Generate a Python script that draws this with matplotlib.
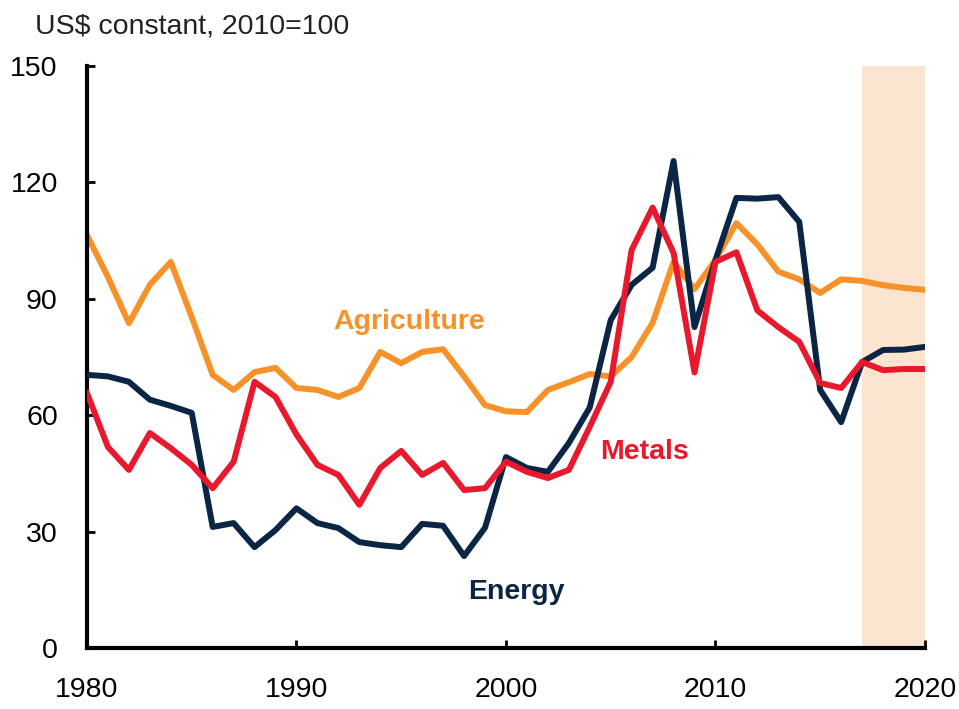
import numpy as np
import matplotlib.pyplot as plt
from matplotlib import font_manager

# narrow font if we have it, else plain Liberation Sans
try:
    font_manager.findfont('Liberation Sans Narrow', fallback_to_default=False)
    fam = 'Liberation Sans Narrow'
    scale = 1.0
except Exception:
    fam = 'Liberation Sans'
    scale = 0.82
plt.rcParams['font.family'] = [fam, 'DejaVu Sans']

years = list(range(1980, 2021))

energy = [70.4, 70.0, 68.6, 64.0, 62.4, 60.6, 31.2, 32.2, 26.0, 30.4,
          36.0, 32.2, 30.9, 27.3, 26.5, 26.0, 32.0, 31.5, 23.7, 31.0,
          49.2, 46.4, 45.4, 52.8, 62.0, 84.5, 93.6, 98.0, 125.5, 82.7,
          100.0, 116.0, 115.8, 116.2, 109.8, 66.5, 58.2, 73.7, 76.8, 76.9,
          77.6]
agriculture = [106.4, 95.6, 83.7, 93.6, 99.5, 85.3, 70.4, 66.5, 71.1, 72.2,
               67.0, 66.5, 64.7, 67.0, 76.3, 73.4, 76.3, 77.0, 70.0, 62.6,
               61.0, 60.8, 66.5, 68.5, 70.6, 70.0, 75.0, 83.8, 99.5, 92.5,
               100.0, 109.5, 104.0, 97.0, 95.0, 91.5, 95.0, 94.6, 93.5, 92.8,
               92.3]
metals = [65.7, 51.8, 45.9, 55.4, 51.5, 47.2, 41.2, 48.0, 68.6, 64.7,
          55.0, 47.2, 44.6, 36.9, 46.4, 50.8, 44.6, 47.7, 40.7, 41.2,
          48.0, 45.4, 43.8, 45.9, 57.0, 68.6, 102.6, 113.5, 101.8, 71.0,
          99.5, 102.0, 87.0, 82.7, 78.9, 68.3, 67.0, 73.7, 71.6, 71.9,
          71.9]

navy = '#0b2545'
red = '#e8192c'
orange = '#f7922a'

fs = 25 * scale

fig = plt.figure(figsize=(9.59, 7.09), dpi=100)
ax = fig.add_axes([0.0907, 0.086, 0.8738, 0.821])

ax.axvspan(2017, 2020, color='#fbe5d0', lw=0, zorder=0)

ax.plot(years, energy, color=navy, lw=4.3, solid_joinstyle='round', zorder=3)
ax.plot(years, metals, color=red, lw=4.3, solid_joinstyle='round', zorder=4)
ax.plot(years, agriculture, color=orange, lw=4.3, solid_joinstyle='round', zorder=2)

ax.set_xlim(1980, 2020)
ax.set_ylim(0, 150)
ax.set_xticks([1980, 1990, 2000, 2010, 2020])
ax.set_yticks([0, 30, 60, 90, 120, 150])

for s in ['top', 'right']:
    ax.spines[s].set_visible(False)
for s in ['left', 'bottom']:
    ax.spines[s].set_linewidth(3)
    ax.spines[s].set_capstyle('projecting')

ax.tick_params(direction='in', length=6, width=2, labelsize=fs, colors='black')
ax.tick_params(axis='y', pad=21)
ax.tick_params(axis='x', pad=21)

ax.text(1995.4, 84, 'Agriculture', color=orange, fontsize=fs, fontweight='bold',
        ha='center', va='center')
ax.text(2006.6, 50.5, 'Metals', color=red, fontsize=fs, fontweight='bold',
        ha='center', va='center')
ax.text(2000.5, 14.5, 'Energy', color=navy, fontsize=fs, fontweight='bold',
        ha='center', va='center')

fig.text(0.036, 0.962, 'US$ constant, 2010=100', fontsize=fs, ha='left', va='center',
         color='#222222')

fig.savefig('out.png', dpi=100)
